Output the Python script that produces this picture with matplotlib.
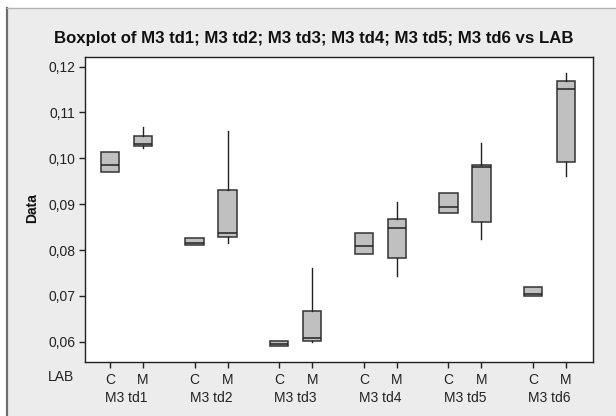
import matplotlib.pyplot as plt
from matplotlib.patches import Rectangle
from matplotlib.lines import Line2D

plt.rcParams['font.family'] = ['Liberation Sans', 'DejaVu Sans']

# values, order: C td1, M td1, C td2, M td2, ...
groups = ["M3 td1", "M3 td2", "M3 td3", "M3 td4", "M3 td5", "M3 td6"]
labs = ["C", "M"]
whislo = [0.09695, 0.1022, 0.0810, 0.0815, 0.0591, 0.0599,
          0.0792, 0.0744, 0.0880, 0.0824, 0.0700, 0.0962]
q1 = [0.09695, 0.1027, 0.0810, 0.0829, 0.0591, 0.0601,
      0.0792, 0.0782, 0.0880, 0.0860, 0.0700, 0.0993]
med = [0.09855, 0.1032, 0.0816, 0.0836, 0.0594, 0.0607,
       0.0809, 0.0849, 0.0893, 0.0980, 0.0704, 0.1151]
q3 = [0.10145, 0.10494, 0.08255, 0.0930, 0.0601, 0.0668,
      0.0836, 0.0867, 0.0924, 0.0985, 0.0719, 0.1168]
whishi = [0.10145, 0.1069, 0.0826, 0.1059, 0.0601, 0.0761,
          0.0836, 0.0905, 0.0924, 0.1033, 0.0719, 0.1187]
yticks = [0.06, 0.07, 0.08, 0.09, 0.10, 0.11, 0.12]

GROUP_STEP = 2.565
W, H = 616, 416
FS = 10

fig = plt.figure(figsize=(W / 100, H / 100), dpi=100)
fig.patch.set_facecolor("white")

# grey panel with a dark left edge and light top edge
fig.patches.append(Rectangle((7 / W, 0), 1 - 7 / W, 1 - 8 / H, transform=fig.transFigure,
                             facecolor="#ECECEC", edgecolor="none", zorder=-5))
fig.lines.append(Line2D([7 / W, 7 / W], [0, 1 - 8 / H], transform=fig.transFigure,
                        color="#6E6E6E", lw=1.6))
fig.lines.append(Line2D([7 / W, 1], [1 - 8 / H, 1 - 8 / H], transform=fig.transFigure,
                        color="#B4B4B4", lw=1.0))

ax = fig.add_axes([85 / W, (H - 362) / H, (593 - 85) / W, (362 - 57) / H])
ax.set_facecolor("white")

stats = []
positions = []
ticklabels = []
for g, name in enumerate(groups):
    for k, lab in enumerate(labs):
        i = 2 * g + k
        stats.append(dict(whislo=whislo[i], q1=q1[i], med=med[i], q3=q3[i],
                          whishi=whishi[i], fliers=[]))
        positions.append(g * GROUP_STEP + k)
        ticklabels.append(lab)

ax.bxp(stats, positions=positions, widths=0.56, patch_artist=True, showcaps=False,
       boxprops=dict(facecolor="#C0C0C0", edgecolor="#333333", linewidth=1.1),
       medianprops=dict(color="#222222", linewidth=1.1),
       whiskerprops=dict(color="#222222", linewidth=1.0))

ax.set_xlim(-0.76, 5 * GROUP_STEP + 1 + 0.82)
ax.set_ylim(0.05557, 0.1221)
ax.set_yticks(yticks)
ax.set_yticklabels([f"{v:.2f}".replace(".", ",") for v in yticks], fontsize=FS, color="#222222")
ax.set_xticks(positions)
ax.set_xticklabels(ticklabels, fontsize=FS, color="#222222")
ax.tick_params(axis="both", direction="out", length=4, width=1, color="#222222")
ax.tick_params(axis="y", pad=3)
ax.tick_params(axis="x", pad=4)
for s in ax.spines.values():
    s.set_color("#222222")
    s.set_linewidth(1.0)

for g, name in enumerate(groups):
    ax.annotate(name, xy=(g * GROUP_STEP + 0.5, 0), xycoords=("data", "axes fraction"),
                xytext=(0, -26), textcoords="offset points", ha="center", va="center",
                fontsize=FS, color="#222222")

fig.text(61 / W, 1 - 377 / H, "LAB", ha="center", va="center", fontsize=FS, color="#222222")
fig.text(32 / W, 1 - 208 / H, "Data", ha="center", va="center", rotation=90,
         fontsize=FS, fontweight="bold", color="#111111")
fig.text(314 / W, 1 - 38 / H,
         "Boxplot of M3 td1; M3 td2; M3 td3; M3 td4; M3 td5; M3 td6 vs LAB",
         ha="center", va="center", fontsize=12.1, fontweight="bold", color="#111111")

fig.savefig("out.png", dpi=100)
